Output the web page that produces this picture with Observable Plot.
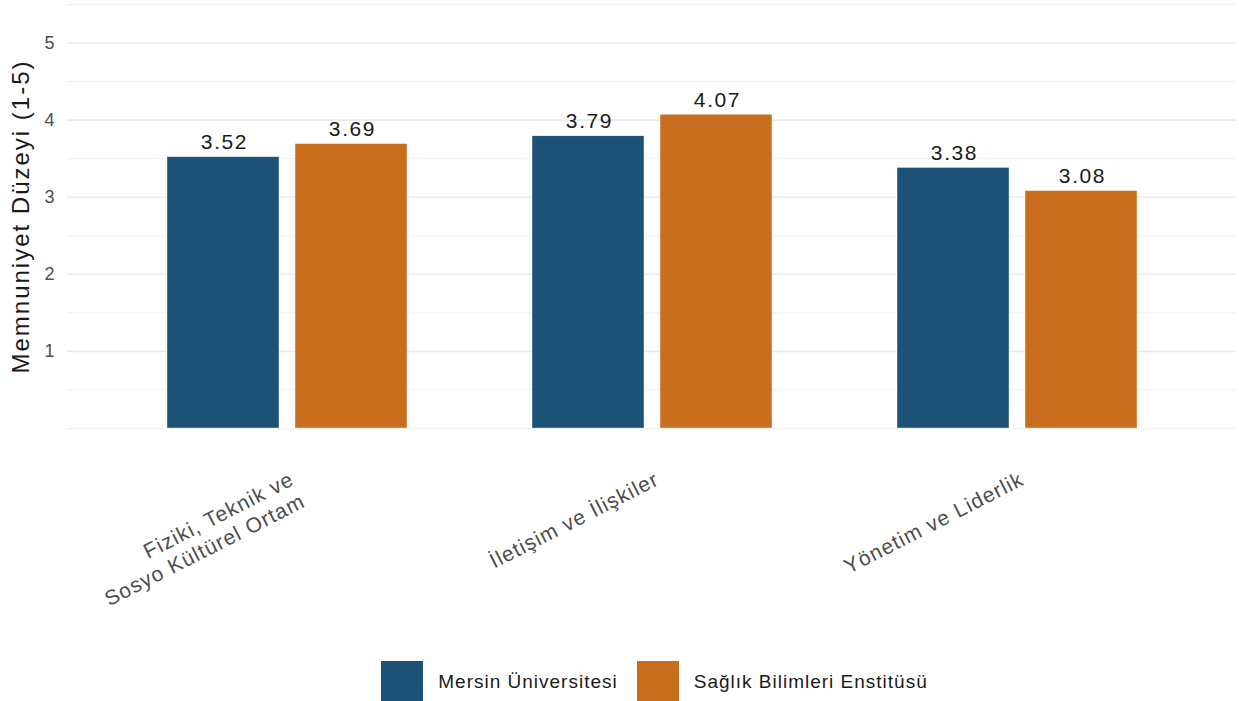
<!DOCTYPE html>
<html>
<head>
<meta charset="utf-8">
<script src="https://cdn.jsdelivr.net/npm/d3@7"></script>
<script src="https://cdn.jsdelivr.net/npm/@observablehq/plot@0.6"></script>
<style>
  body { margin: 0; background: #fff; font-family: "Liberation Sans", Arial, sans-serif; position: relative; width: 1239px; height: 701px; overflow: hidden; }
  #chart svg { font-family: "Liberation Sans", Arial, sans-serif; }
  .legend { position: absolute; left: 0; top: 661px; width: 1239px; box-sizing: border-box; padding-left: 70px; display: flex; justify-content: center; align-items: center; height: 42px; font-size: 19px; letter-spacing: 1px; color: #1a1a1a; }
  .legend .item { display: flex; align-items: center; }
  .legend .item + .item { margin-left: 19px; }
  .legend .sw { width: 42px; height: 42px; margin-right: 15px; }
</style>
</head>
<body>
<div id="chart"></div>
<script>
const categories = ["Fiziki, Teknik ve\nSosyo Kültürel Ortam", "İletişim ve İlişkiler", "Yönetim ve Liderlik"];
const series = ["Mersin Üniversitesi", "Sağlık Bilimleri Enstitüsü"];
const mersinValues = [3.52, 3.79, 3.38];
const saglikValues = [3.69, 4.07, 3.08];
const colors = ["#1b5276", "#c96e1f"];
const yTicks = [1, 2, 3, 4, 5];
const yMinor = [0, 0.5, 1.5, 2.5, 3.5, 4.5, 5.5];
const yLabel = "Memnuniyet Düzeyi (1-5)";

const rows = [];
categories.forEach((c, i) => {
  rows.push({category: c, series: series[0], value: mersinValues[i]});
  rows.push({category: c, series: series[1], value: saglikValues[i]});
});
const s0 = rows.filter(d => d.series === series[0]);
const s1 = rows.filter(d => d.series === series[1]);

const valueText = {fontSize: 21, fill: "#1a1a1a", lineAnchor: "bottom", dy: -8};

const chart = Plot.plot({
  width: 1239,
  height: 640,
  marginLeft: 67,
  marginRight: 3,
  marginTop: 4,
  marginBottom: 212,
  x: {domain: categories, paddingInner: 0.3434, paddingOuter: 0.2709, label: null, axis: null},
  y: {domain: [0, 5.5], label: null, axis: null},
  color: {domain: series, range: colors},
  marks: [
    Plot.ruleY(yMinor, {stroke: "#ebebeb", strokeWidth: 0.8}),
    Plot.ruleY(yTicks, {stroke: "#ebebeb", strokeWidth: 1.6}),
    Plot.barY(s0, {x: "category", y: "value", fill: "series", insetRight: 128, stroke: "#fff", strokeWidth: 0.4}),
    Plot.barY(s1, {x: "category", y: "value", fill: "series", insetLeft: 128, stroke: "#fff", strokeWidth: 0.4}),
    Plot.text(s0, {x: "category", y: "value", text: d => d.value.toFixed(2), dx: -63, ...valueText}),
    Plot.text(s1, {x: "category", y: "value", text: d => d.value.toFixed(2), dx: 65, ...valueText}),
    Plot.axisY({ticks: yTicks, tickFormat: d => String(d), tickSize: 0, tickPadding: 13, fontSize: 18, fill: "#4d4d4d", label: null}),
    Plot.text(categories, {x: d => d, frameAnchor: "bottom", text: d => d, rotate: -27, textAnchor: "end", lineAnchor: "top", lineHeight: 1.17, dx: 0, dy: 40, fontSize: 21, fill: "#4d4d4d"}),
    Plot.text([yLabel], {frameAnchor: "left", text: d => d, rotate: -90, textAnchor: "middle", dx: -46, fontSize: 24, fill: "#1a1a1a"})
  ]
});
document.getElementById("chart").appendChild(chart);

// letter spacing per text mark (value labels, value labels, x labels, y title)
const spacings = ["1.6px", "1.6px", "1.1px", "2px"];
d3.select(chart).selectAll('g[aria-label="text"]').each(function(_, i) {
  if (spacings[i]) this.style.letterSpacing = spacings[i];
});

const legend = document.createElement("div");
legend.className = "legend";
series.forEach((s, i) => {
  const item = document.createElement("div");
  item.className = "item";
  const sw = document.createElement("div");
  sw.className = "sw";
  sw.style.background = colors[i];
  const lab = document.createElement("span");
  lab.textContent = s;
  item.appendChild(sw);
  item.appendChild(lab);
  legend.appendChild(item);
});
document.body.appendChild(legend);
</script>
</body>
</html>
